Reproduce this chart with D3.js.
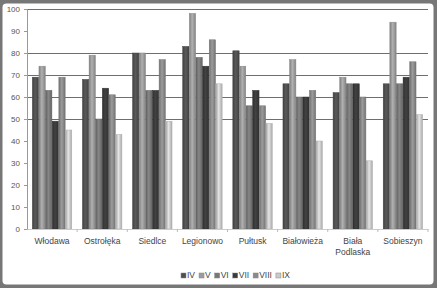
<!DOCTYPE html>
<meta charset="utf-8">
<style>
  body { margin: 0; background: #777; }
  text { font-family: "Liberation Sans", "DejaVu Sans", sans-serif; }
</style>
<body>
<script src="https://d3js.org/d3.v7.min.js"></script>
<script>
// places (x axis) and months (series)
var places = ["Włodawa", "Ostrołęka", "Siedlce", "Legionowo", "Pułtusk", "Białowieża", "Biała Podlaska", "Sobieszyn"];
var months = ["IV", "V", "VI", "VII", "VIII", "IX"];
var IV   = [69, 68, 80, 83, 81, 66, 62, 66];
var V    = [74, 79, 80, 98, 74, 77, 69, 94];
var VI   = [63, 50, 63, 78, 56, 60, 66, 66];
var VII  = [49, 64, 63, 74, 63, 60, 66, 69];
var VIII = [69, 61, 77, 86, 56, 63, 60, 76];
var IX   = [45, 43, 49, 66, 48, 40, 31, 52];
var yTicks = [0, 10, 20, 30, 40, 50, 60, 70, 80, 90, 100];
var gridTicks = [50, 60, 70, 80, 100];

var series = [IV, V, VI, VII, VIII, IX];
var colors = ["#4f4f4f", "#9c9c9c", "#777777", "#3a3a3a", "#8a8a8a", "#cacaca"];

var W = 437, H = 288;
var margin = {top: 9, right: 9, bottom: 59, left: 27};

var svg = d3.select("body").append("svg")
    .attr("width", W)
    .attr("height", H)
    .style("display", "block");

// frame
svg.append("rect").attr("width", W).attr("height", H).attr("fill", "#777");
svg.append("rect")
    .attr("x", 2.5).attr("y", 3.5)
    .attr("width", 431).attr("height", 281)
    .attr("rx", 4)
    .attr("fill", "#fff");

var defs = svg.append("defs");
colors.forEach(function(c, i) {
  var g = defs.append("linearGradient").attr("id", "g" + i);
  g.append("stop").attr("offset", "0%").attr("stop-color", d3.color(c).darker(0.6));
  g.append("stop").attr("offset", "45%").attr("stop-color", d3.color(c).brighter(0.35));
  g.append("stop").attr("offset", "100%").attr("stop-color", d3.color(c).darker(0.5));
});

var width = W - margin.left - margin.right,
    height = H - margin.top - margin.bottom;

var g = svg.append("g").attr("transform", "translate(" + margin.left + "," + margin.top + ")");

var x0 = d3.scaleBand().domain(places).range([0, width]).paddingInner(0.2).paddingOuter(0.1);
var x1 = d3.scaleBand().domain(months).range([0, x0.bandwidth()]).padding(0.05);
var y = d3.scaleLinear().domain([0, 100]).range([height, 0]);

// gridlines
g.append("g").selectAll("line")
  .data(gridTicks)
  .enter().append("line")
    .attr("x1", 0).attr("x2", width)
    .attr("y1", function(d) { return Math.round(y(d)) + 0.5; })
    .attr("y2", function(d) { return Math.round(y(d)) + 0.5; })
    .attr("stroke", "#6e6e6e")
    .attr("stroke-width", 1);

// y axis
var yAxis = g.append("g")
    .call(d3.axisLeft(y).tickValues(yTicks).tickSize(3).tickPadding(4));
yAxis.select(".domain").attr("stroke", "#999");
yAxis.selectAll(".tick line").attr("stroke", "#999");
yAxis.selectAll("text").attr("fill", "#555").style("font-size", "8px");

// bars
var groups = g.selectAll(".grp")
  .data(places)
  .enter().append("g")
    .attr("class", "grp")
    .attr("transform", function(d) { return "translate(" + x0(d) + ",0)"; });

groups.selectAll("rect")
  .data(function(p, pi) { return series.map(function(s, si) { return {m: months[si], v: s[pi], i: si}; }); })
  .enter().append("rect")
    .attr("x", function(d) { return x1(d.m); })
    .attr("y", function(d) { return y(d.v); })
    .attr("width", x1.bandwidth())
    .attr("height", function(d) { return height - y(d.v); })
    .attr("fill", function(d) { return "url(#g" + d.i + ")"; })
    .attr("stroke", function(d) { return d3.color(colors[d.i]).darker(0.4); })
    .attr("stroke-width", 0.5);

// x axis
var xAxis = g.append("g")
    .attr("transform", "translate(0," + height + ")")
    .call(d3.axisBottom(x0).tickSize(0).tickPadding(9));
xAxis.select(".domain").attr("stroke", "#ccc");
xAxis.selectAll("text").attr("fill", "#444").style("font-size", "8.5px")
  .each(function(d) {
    var t = d3.select(this);
    var parts = d.split(" ");
    if (parts.length > 1) {
      t.text(null);
      parts.forEach(function(p, i) {
        t.append("tspan").attr("x", 0).attr("dy", i ? "1.25em" : "0.71em").text(p);
      });
      t.attr("dy", null);
    }
  });

// small ticks between groups
g.append("g").selectAll("line")
  .data(places.slice(0, places.length))
  .enter().append("line")
    .attr("x1", function(d) { return x0(d) + x0.bandwidth() + x0.step() * 0.1; })
    .attr("x2", function(d) { return x0(d) + x0.bandwidth() + x0.step() * 0.1; })
    .attr("y1", height).attr("y2", height + 3)
    .attr("stroke", "#bbb");

// legend
var legend = svg.append("g").attr("transform", "translate(0,278)");
var lx = 181;
months.forEach(function(m, i) {
  legend.append("rect")
    .attr("x", lx).attr("y", -5)
    .attr("width", 5).attr("height", 5)
    .attr("fill", colors[i]).attr("stroke", "#888").attr("stroke-width", 0.5);
  var t = legend.append("text")
    .attr("x", lx + 6).attr("y", 0)
    .attr("fill", "#444").style("font-size", "8.5px")
    .text(m);
  lx += 6 + t.node().getComputedTextLength() + 4;
});
</script>
</body>
